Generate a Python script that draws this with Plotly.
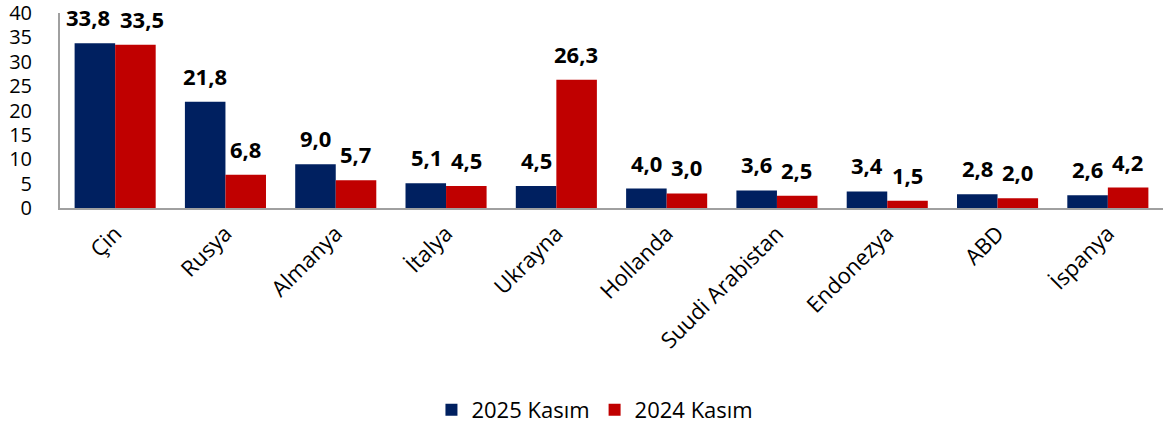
import plotly.graph_objects as go

categories = ["Çin", "Rusya", "Almanya", "İtalya", "Ukrayna", "Hollanda",
              "Suudi Arabistan", "Endonezya", "ABD", "İspanya"]
values_2025 = [33.8, 21.8, 9.0, 5.1, 4.5, 4.0, 3.6, 3.4, 2.8, 2.6]
values_2024 = [33.5, 6.8, 5.7, 4.5, 26.3, 3.0, 2.5, 1.5, 2.0, 4.2]
y_ticks = [0, 5, 10, 15, 20, 25, 30, 35, 40]

def fmt(v):
    return f"{v:.1f}".replace(".", ",")

FONT = "Open Sans, Noto Sans, sans-serif"
BLUE = "#002060"
RED = "#C00000"

fig = go.Figure()
fig.add_trace(go.Bar(
    x=categories, y=values_2025, name="2025 Kasım",
    marker=dict(color=BLUE, line=dict(width=0)),
))
fig.add_trace(go.Bar(
    x=categories, y=values_2024, name="2024 Kasım",
    marker=dict(color=RED, line=dict(width=0)),
))

# value labels, placed via the axes' own data coordinates
for i, cat in enumerate(categories):
    spread = 7 if i == 0 else 0
    for vals, sh in ((values_2025, -20 - spread), (values_2024, 20 + spread)):
        fig.add_annotation(
            x=cat, y=vals[i], text=fmt(vals[i]), showarrow=False,
            xref="x", yref="y", xanchor="center", yanchor="bottom",
            xshift=sh, yshift=9,
            font=dict(family=FONT, size=22, color="black", weight="bold"),
        )

fig.update_layout(
    width=1168, height=425,
    margin=dict(l=60, r=5, t=13, b=217, autoexpand=False),
    plot_bgcolor="white", paper_bgcolor="white",
    barmode="group", bargap=0.265, bargroupgap=0,
    font=dict(family=FONT, color="black"),
    showlegend=True,
    legend=dict(orientation="h", x=0.485, xanchor="center", y=-1.036, yanchor="middle",
                font=dict(size=22, family=FONT), traceorder="normal",
                itemwidth=30),
)
fig.update_yaxes(
    range=[0, 40], tickvals=y_ticks, ticktext=[str(t) for t in y_ticks],
    showgrid=False, zeroline=False, automargin=False,
    showline=True, linecolor="#A0A0A0", linewidth=2,
    ticks="", tickfont=dict(size=20, family=FONT), ticklabelstandoff=22,
    ticklabeloverflow="allow",
)
fig.update_xaxes(
    showgrid=False, showline=True, linecolor="#A0A0A0", linewidth=2,
    ticks="", tickangle=-45, tickfont=dict(size=22, family=FONT),
    ticklabelstandoff=2, automargin=False, ticklabeloverflow="allow",
)

fig.write_html("out.html", config={"displayModeBar": False},
               post_script="document.body.style.margin='0px';")
